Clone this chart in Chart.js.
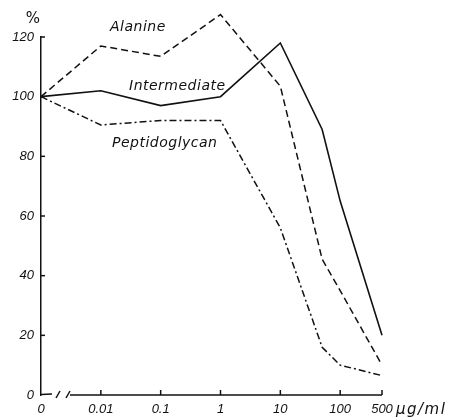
<!DOCTYPE html>
<html>
<head>
<meta charset="utf-8">
<script src="https://cdn.jsdelivr.net/npm/chart.js@4.4.0/dist/chart.umd.min.js"></script>
<style>
  html, body { margin: 0; padding: 0; background: #fff; }
  #wrap { width: 453px; height: 418px; position: relative; }
</style>
</head>
<body>
<div id="wrap"><canvas id="grafico"></canvas></div>
<script>
// dados (concentracao em ug/ml, resposta em %)
const concentrations = [0, 0.01, 0.1, 1, 10, 50, 100, 500];
const intermediate = [100, 102, 97, 100, 118, 89, 65, 20];
const alanine = [100, 117, 113.5, 127.5, 103.5, 45.5, 35, 10];
const peptidoglycan = [100, 90.5, 92, 92, 56, 16, 10, 6.5];

// eixos
const xTicks = [0, 0.01, 0.1, 1, 10, 100, 500];
const xTickLabels = ['0', '0.01', '0.1', '1', '10', '100', '500'];
const yTicks = [0, 20, 40, 60, 80, 100, 120];

const ZERO_AT = 0.001; // o 0 fica uma decada antes de 0.01 (eixo quebrado)
const ink = '#111';
const fontFam = "'DejaVu Sans', sans-serif";
const tickFam = "'Liberation Sans', Arial, sans-serif";

const toX = c => (c === 0 ? ZERO_AT : c);
const points = values => concentrations.map((c, i) => ({ x: toX(c), y: values[i] }));

// eixos desenhados a mao: quebra no eixo x, ticks para dentro e textos
const axisPlugin = {
  id: 'axisPlugin',
  afterDraw(chart) {
    const { ctx } = chart;
    const xs = chart.scales.x;
    const ys = chart.scales.y;
    const y0 = ys.getPixelForValue(0);
    const x0 = xs.getPixelForValue(ZERO_AT);
    const xEnd = xs.getPixelForValue(500);

    ctx.save();
    ctx.strokeStyle = ink;
    ctx.lineWidth = 1.5;
    ctx.setLineDash([]);

    // eixo x com quebra
    ctx.beginPath();
    ctx.moveTo(x0, y0 - 0.5);
    ctx.lineTo(x0 + 11, y0 - 1);
    ctx.stroke();
    [15, 25].forEach(dx => {
      ctx.beginPath();
      ctx.moveTo(x0 + dx, y0 + 3);
      ctx.lineTo(x0 + dx + 4, y0 - 4);
      ctx.stroke();
    });
    ctx.beginPath();
    ctx.moveTo(x0 + 29, y0);
    ctx.lineTo(xEnd, y0);
    ctx.stroke();

    // ticks do eixo x (para cima)
    xTicks.forEach(c => {
      if (c === 0) return;
      const px = xs.getPixelForValue(c);
      ctx.beginPath();
      ctx.moveTo(px, y0);
      ctx.lineTo(px, y0 - 5);
      ctx.stroke();
    });

    // ticks do eixo y (para a direita)
    yTicks.forEach(v => {
      if (v === 0) return;
      const py = ys.getPixelForValue(v);
      ctx.beginPath();
      ctx.moveTo(x0, py);
      ctx.lineTo(x0 + 4, py);
      ctx.stroke();
    });

    // textos
    ctx.fillStyle = ink;
    ctx.textAlign = 'left';
    ctx.textBaseline = 'alphabetic';
    ctx.font = `oblique 14px ${fontFam}`;
    ctx.letterSpacing = '0.5px';
    ctx.fillText('Alanine', 110, 31);
    ctx.fillText('Intermediate', 129, 90);
    ctx.fillText('Peptidoglycan', 112, 147);
    ctx.font = `oblique 15px ${fontFam}`;
    ctx.letterSpacing = '1.5px';
    ctx.fillText('\u00b5g/ml', 396, 414);
    ctx.letterSpacing = '0px';
    ctx.font = `15px ${fontFam}`;
    ctx.textAlign = 'center';
    ctx.fillText('%', 33, 23);
    ctx.restore();
  }
};

new Chart(document.getElementById('grafico'), {
  type: 'line',
  data: {
    datasets: [
      {
        label: 'Alanine',
        data: points(alanine),
        borderColor: ink,
        borderWidth: 1.5,
        borderDash: [7, 4],
        pointRadius: 0,
        tension: 0,
        clip: false
      },
      {
        label: 'Intermediate',
        data: points(intermediate),
        borderColor: ink,
        borderWidth: 1.6,
        pointRadius: 0,
        tension: 0,
        clip: false
      },
      {
        label: 'Peptidoglycan',
        data: points(peptidoglycan),
        borderColor: ink,
        borderWidth: 1.5,
        borderDash: [7, 3, 2, 3],
        pointRadius: 0,
        tension: 0,
        clip: false
      }
    ]
  },
  options: {
    responsive: true,
    maintainAspectRatio: false,
    animation: false,
    events: [],
    layout: { padding: { top: 37, right: 71, left: 0, bottom: 0 } },
    plugins: {
      legend: { display: false },
      tooltip: { enabled: false }
    },
    scales: {
      x: {
        type: 'logarithmic',
        min: ZERO_AT,
        max: 500,
        afterBuildTicks: scale => {
          scale.ticks = xTicks.map(c => ({ value: toX(c) }));
        },
        afterFit: scale => { scale.height = 23; },
        grid: { display: false, drawTicks: false },
        border: { display: false },
        ticks: {
          autoSkip: false,
          maxRotation: 0,
          padding: 7,
          color: ink,
          font: { family: tickFam, size: 13, style: 'italic' },
          callback: (value, index) => xTickLabels[index]
        }
      },
      y: {
        min: 0,
        max: 120,
        afterBuildTicks: scale => {
          scale.ticks = yTicks.map(v => ({ value: v }));
        },
        afterFit: scale => { scale.width = 41; },
        grid: { display: false, drawTicks: false },
        border: { display: true, color: ink, width: 1.5 },
        ticks: {
          padding: 7,
          color: ink,
          font: { family: tickFam, size: 13, style: 'italic' }
        }
      }
    }
  },
  plugins: [axisPlugin]
});
</script>
</body>
</html>
